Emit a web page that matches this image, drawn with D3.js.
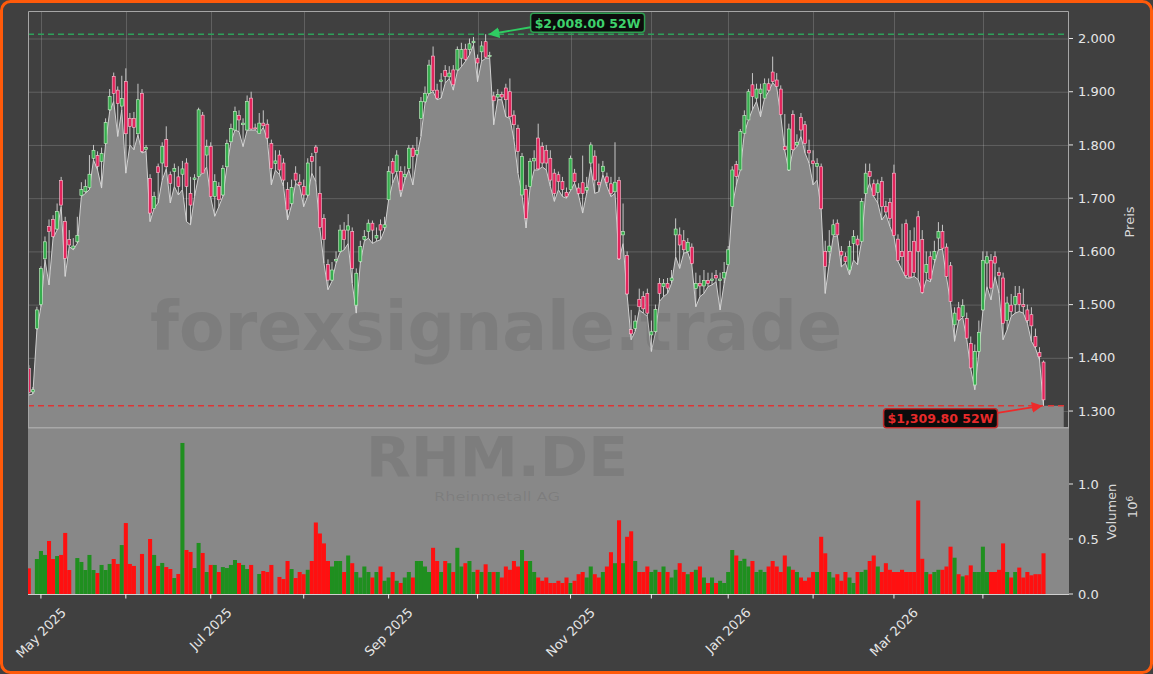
<!DOCTYPE html>
<html><head><meta charset="utf-8">
<script src="https://cdn.jsdelivr.net/npm/d3@7"></script>
<style>html,body{margin:0;padding:0;background:#404040;}svg{display:block;font-family:"DejaVu Sans",sans-serif;}</style>
</head><body><svg id="c" width="1153" height="674"></svg>
<script>
// ---------- DATA (RHM.DE daily, trading-day index 0..251) ----------
const openP = [1380,1336,1455,1500,1586,1647,1660,1642,1733,1656,1622,1606,1618,1705,1712,1720,1775,1780,1769,1803,
1866,1929,1903,1873,1919,1850,1850,1821,1897,1792,1737,1681,1759,1766,1810,1744,1750,1740,1745,1766,
1709,1735,1741,1856,1781,1797,1703,1722,1706,1759,1806,1828,1855,1838,1828,1888,1832,1822,1841,1839,
1803,1765,1781,1766,1716,1690,1747,1730,1722,1706,1778,1796,1709,1662,1575,1546,1582,1600,1640,1640,
1637,1499,1581,1622,1637,1653,1625,1650,1645,1697,1769,1750,1750,1740,1756,1794,1782,1850,1881,1897,
1967,1903,1919,1940,1928,1941,1941,1963,1980,1979,1992,1963,1975,1994,1966,1892,1890,1895,1907,1900,
1856,1831,1706,1716,1722,1770,1813,1797,1790,1775,1747,1744,1731,1711,1716,1747,1719,1729,1715,1766,
1779,1730,1750,1740,1727,1712,1733,1631,1592,1453,1455,1510,1515,1521,1443,1449,1540,1534,1540,1545,
1631,1631,1620,1600,1608,1530,1540,1535,1545,1545,1555,1545,1550,1575,1684,1763,1753,1822,1847,1913,
1888,1897,1888,1915,1937,1922,1905,1797,1753,1857,1800,1852,1838,1790,1770,1760,1759,1600,1600,1631,
1653,1600,1590,1565,1615,1623,1619,1709,1750,1727,1711,1731,1684,1692,1747,1623,1600,1652,1600,1619,
1665,1622,1560,1590,1585,1625,1637,1608,1573,1462,1494,1478,1474,1427,1349,1412,1490,1578,1583,1590,
1560,1550,1470,1499,1500,1521,1500,1490,1481,1440,1410,1392];
const highP = [1386,1345,1496,1572,1628,1660,1668,1690,1740,1665,1640,1625,1665,1730,1735,1781,1800,1788,1795,1850,
1905,1936,1910,1930,1944,1860,1862,1915,1905,1800,1745,1712,1765,1805,1835,1750,1765,1760,1770,1775,
1740,1745,1870,1862,1810,1805,1745,1730,1762,1810,1840,1872,1865,1850,1893,1900,1840,1860,1865,1848,
1810,1790,1790,1775,1730,1735,1760,1745,1735,1775,1785,1800,1760,1670,1585,1580,1600,1650,1655,1670,
1645,1568,1620,1640,1660,1658,1645,1660,1665,1760,1775,1790,1760,1760,1800,1800,1815,1890,1910,1960,
1985,1915,1935,1950,1948,1950,1985,1992,1990,2000,2003,1970,1995,2008,1975,1900,1905,1900,1915,1925,
1865,1838,1785,1725,1775,1790,1840,1805,1800,1790,1755,1750,1740,1720,1780,1755,1728,1780,1740,1805,
1790,1765,1770,1748,1740,1805,1740,1690,1600,1490,1480,1530,1525,1530,1470,1500,1550,1548,1550,1565,
1662,1645,1640,1625,1615,1560,1555,1565,1560,1560,1565,1560,1580,1610,1760,1770,1830,1865,1905,1935,
1915,1915,1925,1925,1966,1935,1912,1858,1840,1865,1820,1860,1845,1810,1790,1775,1765,1620,1640,1660,
1660,1610,1598,1620,1640,1630,1700,1765,1765,1735,1735,1740,1695,1700,1763,1632,1652,1660,1640,1645,
1676,1640,1600,1600,1620,1655,1650,1615,1580,1495,1505,1510,1485,1440,1425,1470,1600,1600,1595,1600,
1570,1560,1515,1520,1535,1535,1530,1500,1495,1455,1420,1395];
const lowP = [1330,1332,1452,1496,1584,1537,1625,1640,1684,1553,1609,1603,1615,1703,1709,1716,1772,1753,1719,1803,
1863,1882,1816,1866,1747,1800,1791,1819,1785,1788,1656,1681,1691,1734,1755,1691,1722,1706,1716,1656,
1650,1703,1741,1747,1759,1701,1666,1684,1703,1759,1806,1828,1825,1797,1828,1828,1828,1822,1833,1810,
1725,1753,1744,1722,1659,1687,1728,1722,1684,1704,1747,1731,1643,1578,1528,1544,1578,1598,1603,1615,
1540,1484,1578,1619,1625,1615,1619,1622,1640,1697,1728,1747,1703,1734,1753,1725,1778,1816,1878,1897,
1900,1885,1888,1916,1925,1903,1938,1947,1957,1969,1988,1919,1957,1963,1963,1838,1885,1885,1853,1850,
1810,1747,1706,1644,1720,1753,1753,1759,1753,1722,1694,1716,1703,1700,1714,1728,1705,1672,1709,1759,
1709,1712,1744,1722,1703,1709,1584,1615,1518,1434,1450,1490,1484,1478,1412,1447,1506,1515,1521,1540,
1590,1568,1597,1598,1575,1496,1515,1521,1534,1537,1543,1490,1540,1575,1684,1725,1753,1822,1847,1866,
1882,1853,1888,1900,1917,1908,1855,1789,1751,1789,1797,1816,1785,1766,1725,1734,1678,1521,1578,1628,
1629,1571,1578,1556,1584,1575,1619,1709,1728,1703,1691,1659,1670,1647,1628,1581,1565,1550,1550,1553,
1547,1521,1547,1543,1578,1603,1604,1551,1504,1431,1469,1476,1435,1379,1340,1410,1488,1534,1509,1553,
1521,1434,1453,1478,1484,1487,1484,1465,1431,1418,1396,1309.8];
const closeP = [1335,1340,1490,1568,1618,1637,1628,1675,1687,1587,1612,1610,1630,1716,1722,1745,1790,1760,1784,1842,
1891,1897,1878,1887,1821,1835,1833,1885,1788,1795,1672,1703,1748,1797,1759,1728,1756,1722,1755,1722,
1687,1738,1866,1747,1797,1703,1731,1697,1756,1803,1831,1863,1847,1841,1882,1830,1830,1841,1836,1813,
1756,1770,1753,1734,1678,1720,1734,1725,1706,1766,1769,1786,1645,1622,1546,1565,1585,1640,1622,1648,
1568,1559,1609,1628,1653,1640,1630,1640,1650,1750,1747,1781,1715,1745,1794,1778,1790,1882,1897,1950,
1902,1888,1922,1929,1935,1913,1979,1979,1961,1990,1995,1954,1986,1965,1968,1883,1895,1890,1885,1853,
1838,1788,1778,1662,1769,1775,1755,1766,1766,1734,1709,1731,1716,1703,1775,1731,1709,1709,1720,1800,
1734,1725,1760,1730,1709,1730,1586,1637,1520,1445,1469,1496,1492,1484,1449,1491,1521,1540,1531,1550,
1642,1612,1603,1617,1577,1540,1535,1545,1540,1548,1550,1548,1560,1603,1753,1741,1825,1855,1900,1891,
1905,1905,1915,1903,1919,1910,1857,1791,1830,1791,1805,1828,1803,1785,1765,1765,1680,1572,1610,1650,
1631,1593,1581,1609,1628,1612,1694,1747,1741,1705,1727,1684,1674,1662,1630,1583,1590,1555,1552,1560,
1600,1523,1575,1548,1600,1637,1606,1553,1506,1484,1471,1498,1437,1381,1412,1448,1583,1590,1531,1578,
1555,1465,1503,1487,1515,1500,1496,1470,1460,1421,1402,1321];
const volumeM = [0.233,0,0.318,0.391,0.355,0.482,0.318,0.345,0.355,0.555,0.218,0,0.327,0.291,0.218,0.355,0.218,0.191,0.264,0.218,
0.273,0.318,0.273,0.445,0.645,0.273,0.255,0,0.364,0,0.5,0.355,0.255,0.282,0.245,0.227,0.145,0.182,1.373,0.4,
0.382,0.236,0.464,0.373,0.2,0.264,0.264,0.2,0.245,0.236,0.264,0.309,0.282,0.264,0.227,0.264,0,0.182,0.209,0.2,
0.264,0,0.155,0.136,0.3,0.227,0.145,0.2,0.18,0.22,0.3,0.65,0.55,0.46,0.3,0.25,0.3,0.3,0.2,0.35,
0.28,0.2,0.15,0.25,0.2,0.15,0.2,0.25,0.12,0.15,0.2,0.12,0.1,0.15,0.2,0.15,0.3,0.3,0.25,0.2,
0.42,0.3,0.2,0.3,0.28,0.2,0.42,0.25,0.28,0.3,0.2,0.22,0.2,0.27,0.2,0.2,0.2,0.15,0.25,0.22,
0.3,0.25,0.4,0.3,0.3,0.2,0.15,0.12,0.15,0.1,0.1,0.12,0.1,0.15,0.1,0.12,0.18,0.2,0.15,0.25,
0.18,0.15,0.2,0.25,0.38,0.28,0.67,0.28,0.52,0.57,0.3,0.2,0.2,0.25,0.2,0.22,0.2,0.25,0.2,0.15,
0.22,0.28,0.2,0.18,0.2,0.22,0.25,0.15,0.1,0.15,0.1,0.12,0.1,0.2,0.4,0.35,0.3,0.32,0.25,0.3,
0.2,0.22,0.2,0.25,0.3,0.25,0.2,0.35,0.25,0.22,0.2,0.15,0.12,0.15,0.2,0.2,0.52,0.37,0.2,0.15,
0.18,0.12,0.2,0.15,0.1,0.2,0.2,0.22,0.3,0.35,0.25,0.2,0.28,0.22,0.2,0.2,0.22,0.2,0.2,0.2,
0.85,0.32,0.2,0.18,0.2,0.22,0.22,0.25,0.43,0.33,0.18,0.16,0.17,0.26,0.2,0.2,0.43,0.2,0.2,0.2,
0.22,0.46,0.2,0.15,0.2,0.24,0.15,0.2,0.17,0.18,0.18,0.37];
const monthTickIndex = [3,24,45,68,89,111,134,154,173,194,214,236];
const monthTickLabels = ["May 2025","","Jul 2025","","Sep 2025","","Nov 2025","","Jan 2026","","Mar 2026",""];
const priceTicks = [1300,1400,1500,1600,1700,1800,1900,2000];
const volumeTicks = [0,0.5,1.0];
const high52 = 2008.00;
const low52 = 1309.80;
const symbol = "RHM.DE", company = "Rheinmetall AG", site = "forexsignale.trade";

const N = closeP.length;
[openP,highP,lowP,volumeM].forEach((a,k)=>{ if(a.length!==N) throw new Error("length mismatch "+k+": "+a.length+" vs "+N); });

// ---------- LAYOUT ----------
const W=1153,H=674;
const P={l:28,r:1069,t:11,b:427};
const V={t:428,b:594};
const svg=d3.select("#c");
const defs=svg.append("defs");
defs.append("clipPath").attr("id","cp").append("rect").attr("x",P.l).attr("y",P.t).attr("width",P.r-P.l).attr("height",P.b-P.t);
defs.append("clipPath").attr("id","cv").append("rect").attr("x",P.l).attr("y",V.t).attr("width",P.r-P.l).attr("height",V.b-V.t);
function marker(id,col){defs.append("marker").attr("id",id).attr("viewBox","0 0 10 10").attr("refX",9).attr("refY",5)
 .attr("markerWidth",6).attr("markerHeight",6).attr("orient","auto").append("path").attr("d","M0,0L10,5L0,10z").attr("fill",col);}
marker("ag","#2fcc62"); marker("ar","#ee2a2a");

svg.append("rect").attr("x",1.5).attr("y",1.5).attr("width",W-3).attr("height",H-3).attr("rx",9)
 .attr("fill","#404040").attr("stroke","#ff5a0a").attr("stroke-width",3);

const x=d3.scaleLinear().domain([-0.2,257.3]).range([P.l,P.r]);
const y=d3.scaleLinear().domain([1270,2051.7]).range([P.b,P.t]);
const yv=d3.scaleLinear().domain([0,1.509]).range([V.b,V.t]);
const deFmt=d3.formatLocale({decimal:",",thousands:".",grouping:[3],currency:["","€"]}).format(",");
const usFmt=d3.format("$,.2f");

// grid
const gp=svg.append("g").attr("clip-path","url(#cp)");
gp.selectAll("line.h").data(priceTicks).join("line").attr("x1",P.l).attr("x2",P.r)
 .attr("y1",d=>y(d)+0.5).attr("y2",d=>y(d)+0.5).attr("stroke","rgba(255,255,255,0.17)").attr("stroke-width",1);
gp.selectAll("line.v").data(monthTickIndex).join("line").attr("y1",P.t).attr("y2",P.b)
 .attr("x1",d=>Math.round(x(d))+0.5).attr("x2",d=>Math.round(x(d))+0.5).attr("stroke","rgba(255,255,255,0.17)");

// area of lows
const areaPts=lowP.map((v,i)=>[i,v]); areaPts.push([N-1+5,lowP[N-1]]);
gp.append("path").datum(areaPts).attr("d",d3.area().x(d=>x(d[0])).y0(P.b).y1(d=>y(d[1]))).attr("fill","#888888");
gp.append("path").datum(areaPts.slice(0,N)).attr("d",d3.line().x(d=>x(d[0])).y(d=>y(d[1]))).attr("fill","none")
 .attr("stroke","#d0d0d0").attr("stroke-width",1);

// volume panel background
svg.append("rect").attr("x",P.l).attr("y",V.t).attr("width",P.r-P.l).attr("height",V.b-V.t).attr("fill","#888888");

// watermark
const wm=svg.append("g").attr("fill","#333").attr("fill-opacity",0.13).attr("text-anchor","middle");
wm.append("text").attr("x",496).attr("y",350).attr("font-size",68).attr("font-weight","bold")
 .attr("textLength",692).attr("lengthAdjust","spacingAndGlyphs").text(site);
wm.append("text").attr("x",497).attr("y",476).attr("font-size",56).attr("font-weight","bold")
 .attr("textLength",262).attr("lengthAdjust","spacingAndGlyphs").text(symbol);
wm.append("text").attr("x",497).attr("y",501).attr("font-size",13)
 .attr("textLength",126).attr("lengthAdjust","spacingAndGlyphs").text(company);

// 52W lines
const gl=svg.append("g").attr("clip-path","url(#cp)");
gl.append("line").attr("x1",P.l).attr("x2",P.r).attr("y1",y(high52)).attr("y2",y(high52))
 .attr("stroke","#2ea05a").attr("stroke-width",1.6).attr("stroke-dasharray","6,4");
gl.append("line").attr("x1",P.l).attr("x2",P.r).attr("y1",y(low52)).attr("y2",y(low52))
 .attr("stroke","#e03434").attr("stroke-width",1.6).attr("stroke-dasharray","6,4");

// candles
const idx=d3.range(N);
const gc=svg.append("g").attr("clip-path","url(#cp)");
gc.selectAll("line.w").data(idx).join("line").attr("x1",i=>x(i)).attr("x2",i=>x(i))
 .attr("y1",i=>y(highP[i])).attr("y2",i=>y(lowP[i])).attr("stroke","#d6d6d6").attr("stroke-width",0.9);
gc.selectAll("rect.b").data(idx).join("rect").attr("x",i=>x(i)-1.5).attr("width",3)
 .attr("y",i=>y(Math.max(openP[i],closeP[i])))
 .attr("height",i=>Math.max(1,Math.abs(y(openP[i])-y(closeP[i]))))
 .attr("fill",i=>closeP[i]>=openP[i]?"#36ad4e":"#e2245c")
 .attr("stroke",i=>closeP[i]>=openP[i]?"#c8f2c8":"#ffc4d4").attr("stroke-width",0.6);

// volume bars
const gv=svg.append("g").attr("clip-path","url(#cv)");
gv.selectAll("rect").data(idx).join("rect").attr("x",i=>x(i)-2.02).attr("width",4.04)
 .attr("y",i=>yv(volumeM[i])).attr("height",i=>V.b-yv(volumeM[i]))
 .attr("fill",i=>closeP[i]>=openP[i]?"#1f8f1f":"#ff1010");

// frames
svg.append("path").attr("d",`M${P.l+0.5},${P.b}V${P.t+0.5}H${P.r-0.5}V${P.b}`).attr("fill","none").attr("stroke","#a6a6a6").attr("stroke-width",1);
svg.append("line").attr("x1",P.l).attr("x2",P.r).attr("y1",427.8).attr("y2",427.8).attr("stroke","#a8a8a8").attr("stroke-width",1.5);
svg.append("line").attr("x1",P.l).attr("x2",P.r).attr("y1",V.b+0.5).attr("y2",V.b+0.5).attr("stroke","#cfcfcf").attr("stroke-width",1);

// right axes
const tc="#e6e6e6";
const ga=svg.append("g").attr("font-size",13).attr("fill",tc);
priceTicks.forEach(t=>{
 ga.append("line").attr("x1",P.r).attr("x2",P.r+4).attr("y1",y(t)).attr("y2",y(t)).attr("stroke",tc);
 ga.append("text").attr("x",P.r+9).attr("y",y(t)).attr("dy","0.36em").text(deFmt(t));
});
volumeTicks.forEach(t=>{
 ga.append("line").attr("x1",P.r).attr("x2",P.r+4).attr("y1",yv(t)).attr("y2",yv(t)).attr("stroke",tc);
 ga.append("text").attr("x",P.r+9).attr("y",yv(t)).attr("dy","0.36em").text(d3.format(".1f")(t));
});
ga.append("text").attr("transform","translate(1134,222) rotate(-90)").attr("text-anchor","middle").attr("fill","#d8d8d8").text("Preis");
ga.append("text").attr("transform","translate(1116,512) rotate(-90)").attr("text-anchor","middle").attr("fill","#d8d8d8").text("Volumen");
const ex=ga.append("text").attr("transform","translate(1137,507) rotate(-90)").attr("text-anchor","middle").attr("fill","#d8d8d8");
ex.append("tspan").text("10"); ex.append("tspan").attr("dy","-0.45em").attr("font-size",9).text("6");

// month ticks + labels
monthTickIndex.forEach((m,k)=>{
 const xm=x(m);
 ga.append("line").attr("x1",xm).attr("x2",xm).attr("y1",V.b).attr("y2",V.b+4.5).attr("stroke","#f0f0f0");
 if(monthTickLabels[k]){
  const t=ga.append("text").attr("text-anchor","middle").attr("dominant-baseline","central").text(monthTickLabels[k]);
  const w=t.node().getComputedTextLength();
  const yc=605+(w+15)*0.3535;
  t.attr("x",xm).attr("y",yc).attr("transform",`rotate(-45,${xm},${yc})`);
 }
});

// annotations
function annot(val,idxPt,col,boxCol,txtCol,side){
 const tipX=x(idxPt)+ (side>0?4:-2), tipY=y(val);
 const g=svg.append("g");
 const t=g.append("text").attr("font-size",12.5).attr("font-weight","bold").attr("fill",txtCol).attr("text-anchor","middle")
  .attr("dominant-baseline","central").text(usFmt(val)+" 52W");
 const w=t.node().getComputedTextLength()+8, h=19;
 let bx,by;
 if(side>0){bx=tipX+41; by=tipY-21;} else {bx=tipX-44-w; by=tipY+3;}
 g.insert("rect","text").attr("x",bx).attr("y",by).attr("width",w).attr("height",h).attr("rx",3)
  .attr("fill","#0c0c0c").attr("stroke",boxCol).attr("stroke-width",1.5);
 t.attr("x",bx+w/2).attr("y",by+h/2+0.5);
 const sx= side>0? bx : bx+w, sy= side>0? by+14 : by+4;
 g.append("line").attr("x1",sx).attr("y1",sy).attr("x2",tipX).attr("y2",tipY)
  .attr("stroke",col).attr("stroke-width",1.8).attr("marker-end",side>0?"url(#ag)":"url(#ar)");
}
const hiIdx=d3.maxIndex(highP), loIdx=d3.minIndex(lowP);
annot(high52,hiIdx,"#2fcc62","#2e9e50","#3ed26c",1);
annot(low52,loIdx,"#ee2a2a","#c02a2a","#e82a2a",-1);
</script></body></html>
